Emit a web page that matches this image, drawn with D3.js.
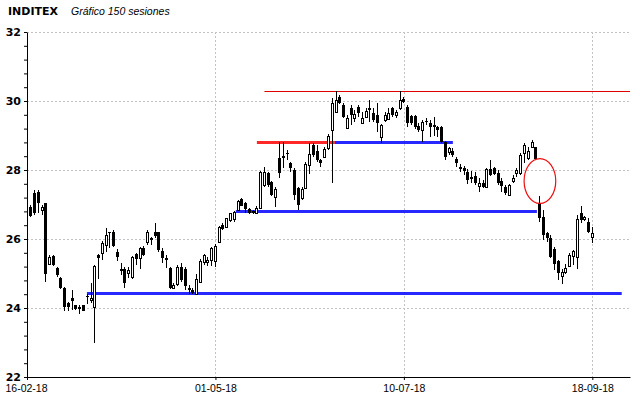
<!DOCTYPE html>
<html lang="es">
<head>
<meta charset="utf-8">
<title>INDITEX - Gráfico 150 sesiones</title>
<script src="https://d3js.org/d3.v7.min.js"></script>
<style>
  body { margin: 0; background: #fff; }
  svg { display: block; }
</style>
</head>
<body>
<div id="chart"></div>
<script>
// 150 sesiones, OHLC
const opens = [
  26.94, 27.34, 27.37, 26.84, 27.03, 25.28, 25.51, 25.15, 24.86, 24.57,
  24.14, 24.28, 24.09, 24.02, 24.09, 24.35, 24.23, 24.02, 25.54, 25.58,
  25.83, 26.20, 26.21, 25.63, 25.12, 25.13, 25.02, 24.91, 25.56, 25.44,
  25.73, 25.92, 26.02, 26.21, 26.19, 25.66, 25.44, 25.15, 24.59, 24.70,
  25.18, 25.12, 24.59, 24.52, 24.42, 24.76, 25.34, 25.33, 25.39, 25.36,
  25.92, 26.41, 26.36, 26.55, 26.57, 26.84, 27.16, 27.03, 26.87, 26.81,
  26.74, 26.91, 27.57, 27.90, 27.64, 27.23, 28.34, 28.39, 28.49, 28.19,
  28.00, 27.47, 27.20, 27.49, 28.14, 28.72, 28.55, 28.29, 28.39, 28.63,
  29.16, 29.69, 30.13, 29.88, 29.21, 29.81, 29.52, 29.84, 29.35, 29.55,
  29.77, 29.64, 29.59, 28.97, 29.45, 29.48, 29.79, 29.59, 29.79, 30.06,
  29.84, 29.56, 29.56, 29.28, 29.16, 29.42, 29.37, 29.30, 29.26, 29.26,
  28.82, 28.53, 28.56, 28.31, 28.08, 28.05, 27.95, 27.79, 27.83, 27.54,
  27.63, 27.50, 28.02, 28.05, 27.90, 27.69, 27.52, 27.28, 27.69, 27.90,
  27.90, 28.48, 28.34, 28.66, 28.66, 27.05, 26.65, 26.16, 26.02, 25.70,
  25.35, 24.93, 25.05, 25.22, 25.52, 25.49, 26.76, 26.57, 26.50, 26.07
];
const highs = [
  27.00, 27.42, 27.42, 26.99, 27.05, 25.54, 25.54, 25.20, 24.90, 24.60,
  24.18, 24.52, 24.10, 24.09, 24.10, 24.41, 24.72, 25.25, 25.57, 25.95,
  26.31, 26.21, 26.26, 25.71, 25.31, 25.18, 25.18, 25.51, 25.60, 25.78,
  25.80, 26.26, 26.07, 26.45, 26.21, 25.73, 25.54, 25.18, 24.72, 25.25,
  25.30, 25.18, 24.67, 24.57, 24.99, 25.41, 25.56, 25.47, 25.78, 25.85,
  26.38, 26.45, 26.62, 26.76, 26.82, 27.13, 27.20, 27.08, 26.90, 26.84,
  26.95, 27.97, 28.10, 27.95, 27.68, 27.52, 28.80, 28.80, 28.57, 28.24,
  28.05, 27.52, 27.52, 28.24, 28.77, 28.77, 28.72, 28.32, 28.68, 29.03,
  30.08, 30.28, 30.17, 29.93, 29.59, 29.88, 29.74, 29.88, 29.69, 29.81,
  30.03, 29.79, 29.93, 29.32, 29.69, 29.79, 29.84, 29.74, 30.28, 30.13,
  29.88, 29.60, 29.60, 29.35, 29.45, 29.50, 29.45, 29.55, 29.28, 29.28,
  28.85, 28.68, 28.63, 28.39, 28.17, 28.12, 28.02, 27.98, 27.95, 27.76,
  27.71, 28.05, 28.29, 28.08, 27.99, 27.76, 27.56, 27.59, 27.85, 28.05,
  28.48, 28.77, 28.68, 28.87, 28.68, 27.25, 26.84, 26.21, 26.11, 25.78,
  25.40, 25.12, 25.27, 25.58, 25.68, 26.70, 26.96, 26.67, 26.60, 26.36
];
const lows = [
  26.63, 26.70, 26.74, 26.70, 24.76, 25.25, 25.22, 24.89, 24.55, 23.92,
  23.92, 23.94, 23.94, 23.83, 23.90, 24.13, 24.14, 23.00, 24.85, 25.39,
  25.63, 25.73, 25.78, 25.36, 24.96, 24.57, 24.86, 24.84, 25.25, 25.12,
  25.51, 25.83, 25.83, 26.02, 25.63, 25.29, 25.15, 24.54, 24.54, 24.64,
  24.76, 24.52, 24.42, 24.42, 24.40, 24.72, 25.25, 25.22, 25.22, 25.20,
  25.87, 26.25, 26.33, 26.50, 26.50, 26.80, 26.95, 26.74, 26.72, 26.72,
  26.72, 26.88, 27.52, 27.52, 27.26, 26.94, 27.76, 28.05, 28.29, 27.93,
  27.13, 26.84, 27.13, 27.47, 27.87, 28.39, 28.24, 28.10, 28.36, 28.58,
  27.62, 29.64, 29.90, 29.50, 29.19, 29.30, 29.40, 29.55, 29.32, 29.50,
  29.40, 29.40, 29.11, 28.77, 29.40, 29.45, 29.55, 29.50, 29.74, 29.93,
  29.25, 29.30, 29.20, 29.10, 28.82, 29.30, 28.97, 29.00, 28.97, 28.79,
  28.29, 28.43, 28.39, 28.10, 27.95, 27.85, 27.59, 27.61, 27.56, 27.37,
  27.47, 27.47, 27.83, 27.85, 27.56, 27.37, 27.28, 27.26, 27.63, 27.80,
  27.85, 28.19, 28.30, 28.63, 28.29, 26.50, 25.97, 25.92, 25.44, 25.10,
  24.80, 24.70, 24.98, 25.20, 25.25, 25.12, 26.45, 26.53, 26.16, 25.87
];
const closes = [
  26.67, 26.74, 27.03, 26.92, 25.00, 25.49, 25.25, 24.96, 24.57, 24.02,
  24.02, 24.21, 23.96, 23.96, 23.92, 24.31, 24.30, 25.22, 25.44, 25.87,
  26.12, 26.16, 25.81, 25.49, 25.08, 24.72, 25.10, 25.49, 25.41, 25.73,
  25.54, 26.21, 25.97, 26.09, 25.68, 25.44, 25.39, 24.57, 24.67, 25.18,
  24.81, 24.64, 24.52, 24.44, 24.83, 25.37, 25.54, 25.39, 25.73, 25.79,
  26.36, 26.28, 26.60, 26.74, 26.79, 27.11, 26.97, 26.87, 26.74, 26.74,
  26.91, 27.93, 27.93, 27.57, 27.28, 27.45, 27.90, 28.41, 28.45, 28.05,
  27.28, 26.98, 27.45, 28.16, 28.45, 28.43, 28.29, 28.19, 28.61, 28.99,
  29.93, 30.03, 29.93, 29.55, 29.50, 29.58, 29.62, 29.64, 29.52, 29.71,
  29.79, 29.45, 29.35, 29.29, 29.59, 29.64, 29.59, 29.69, 30.03, 29.98,
  29.35, 29.35, 29.26, 29.16, 29.40, 29.38, 29.26, 29.26, 29.16, 28.82,
  28.39, 28.63, 28.44, 28.19, 28.02, 27.98, 27.71, 27.73, 27.61, 27.63,
  27.50, 28.02, 27.85, 27.88, 27.61, 27.54, 27.32, 27.56, 27.76, 28.00,
  28.43, 28.72, 28.56, 28.82, 28.31, 26.60, 26.12, 26.02, 25.49, 25.27,
  25.02, 25.05, 25.17, 25.54, 25.65, 26.57, 26.55, 26.65, 26.21, 26.16
];

// eje x: sesion de cada fecha marcada
const tickIdx = [-1, 49, 99, 149];
const tickLabels = ["16-02-18", "01-05-18", "10-07-18", "18-09-18"];

// lineas de soporte / resistencia (precio, sesion inicial, sesion final)
const levelPrice = [30.28, 28.8, 28.8, 26.81, 24.43];
const levelFrom  = [62, 60, 80.7, 54.4, 14.9];
const levelTo    = [159, 80.7, 112, 134.3, 156.8];
const levelKind  = ["thin", "red", "blue", "blue", "blue"];

// hueco marcado con la elipse (sesion, precio, radio en sesiones, radio en precio)
const gapMark = [135.1, 27.68, 4.2, 0.65];

const width = 640, height = 398;

const svg = d3.select("#chart").append("svg")
    .attr("width", width)
    .attr("height", height);

const x = d3.scaleLinear().domain([-1, 159]).range([27, 630]);
const y = d3.scaleLinear().domain([22, 32]).range([377, 32]);

// rejilla punteada
svg.append("g").selectAll("line")
    .data([24, 26, 28, 30, 32])
    .join("line")
    .attr("x1", x(-1)).attr("x2", x(159))
    .attr("y1", d => Math.round(y(d)) + 0.5).attr("y2", d => Math.round(y(d)) + 0.5)
    .attr("stroke", "#c4c0c8")
    .attr("stroke-dasharray", "2,2");

svg.append("g").selectAll("line")
    .data(tickIdx.slice(1))
    .join("line")
    .attr("x1", d => Math.round(x(d)) + 0.5).attr("x2", d => Math.round(x(d)) + 0.5)
    .attr("y1", y(32)).attr("y2", y(22))
    .attr("stroke", "#c4c0c8")
    .attr("stroke-dasharray", "2,2");

// lineas horizontales
const levelStyle = {
    thin: { color: "#e00000", w: 1 },
    red:  { color: "#ff1010", w: 3 },
    blue: { color: "#1010ff", w: 3 }
};
svg.append("g").selectAll("line")
    .data(levelPrice.map((p, i) => ({ p, a: levelFrom[i], b: levelTo[i], k: levelKind[i] })))
    .join("line")
    .attr("x1", d => x(d.a)).attr("x2", d => x(d.b))
    .attr("y1", d => Math.round(y(d.p)) + 0.5).attr("y2", d => Math.round(y(d.p)) + 0.5)
    .attr("stroke", d => levelStyle[d.k].color)
    .attr("stroke-width", d => levelStyle[d.k].w)
    .attr("stroke-opacity", d => d.k === "thin" ? 1 : 0.9);

// velas
const candles = opens.map((o, i) => ({ i, o, h: highs[i], l: lows[i], c: closes[i] }));
const cg = svg.append("g").attr("shape-rendering", "crispEdges");

cg.selectAll("line.wick")
    .data(candles)
    .join("line")
    .attr("class", "wick")
    .attr("x1", d => Math.floor(x(d.i)) + 0.5).attr("x2", d => Math.floor(x(d.i)) + 0.5)
    .attr("y1", d => Math.round(y(d.h))).attr("y2", d => Math.round(y(d.l)))
    .attr("stroke", "#000");

cg.selectAll("rect.down")
    .data(candles.filter(d => d.c < d.o))
    .join("rect")
    .attr("class", "down")
    .attr("x", d => Math.floor(x(d.i)) - 1)
    .attr("width", 3)
    .attr("y", d => Math.round(y(d.o)))
    .attr("height", d => Math.max(1, Math.round(y(d.c)) - Math.round(y(d.o))))
    .attr("fill", "#000");

cg.selectAll("rect.up")
    .data(candles.filter(d => d.c >= d.o))
    .join("rect")
    .attr("class", "up")
    .attr("x", d => Math.floor(x(d.i)) - 0.5)
    .attr("width", 2)
    .attr("y", d => Math.round(y(d.c)) + 0.5)
    .attr("height", d => Math.max(1, Math.round(y(d.o)) - Math.round(y(d.c))))
    .attr("fill", "#fff")
    .attr("stroke", "#000");

// elipse
svg.append("ellipse")
    .attr("cx", x(gapMark[0]))
    .attr("cy", y(gapMark[1]))
    .attr("rx", x(gapMark[0] + gapMark[2]) - x(gapMark[0]))
    .attr("ry", y(gapMark[1] - gapMark[3]) - y(gapMark[1]))
    .attr("fill", "none")
    .attr("stroke", "#ee1010")
    .attr("stroke-width", 1.2);

// ejes
const yAxis = svg.append("g")
    .attr("transform", `translate(${x(-1)},0)`)
    .call(d3.axisLeft(y)
        .tickValues(d3.range(0, 26).map(k => 22 + k * 0.4))
        .tickSize(3)
        .tickSizeOuter(0)
        .tickFormat(""));
yAxis.selectAll("path, line").attr("stroke", "#000");

svg.append("g").selectAll("text")
    .data([22, 24, 26, 28, 30, 32])
    .join("text")
    .attr("x", 21)
    .attr("y", d => y(d) + 4)
    .attr("text-anchor", "end")
    .style("font-family", "DejaVu Sans, sans-serif")
    .style("font-weight", "bold")
    .style("font-size", "11px")
    .text(d => d);

const xAxis = svg.append("g")
    .attr("transform", `translate(0,${y(22)})`)
    .call(d3.axisBottom(x)
        .tickValues(tickIdx)
        .tickSize(3)
        .tickSizeOuter(0)
        .tickFormat((d, i) => tickLabels[i]));
xAxis.selectAll("path, line").attr("stroke", "#000");
xAxis.selectAll("text")
    .attr("y", 8)
    .attr("fill", "#000")
    .style("font-family", "Liberation Sans, Arial, sans-serif")
    .style("font-size", "10.5px");
xAxis.select(".tick text").attr("text-anchor", "start").attr("x", -22);

// titulo
svg.append("text")
    .attr("x", 8).attr("y", 15)
    .style("font-family", "DejaVu Sans, sans-serif")
    .style("font-weight", "bold")
    .style("font-size", "11px")
    .text("INDITEX");

svg.append("text")
    .attr("x", 71).attr("y", 15)
    .style("font-family", "Liberation Sans, Arial, sans-serif")
    .style("font-style", "italic")
    .style("font-size", "10.5px")
    .text("Gráfico 150 sesiones");
</script>
</body>
</html>
